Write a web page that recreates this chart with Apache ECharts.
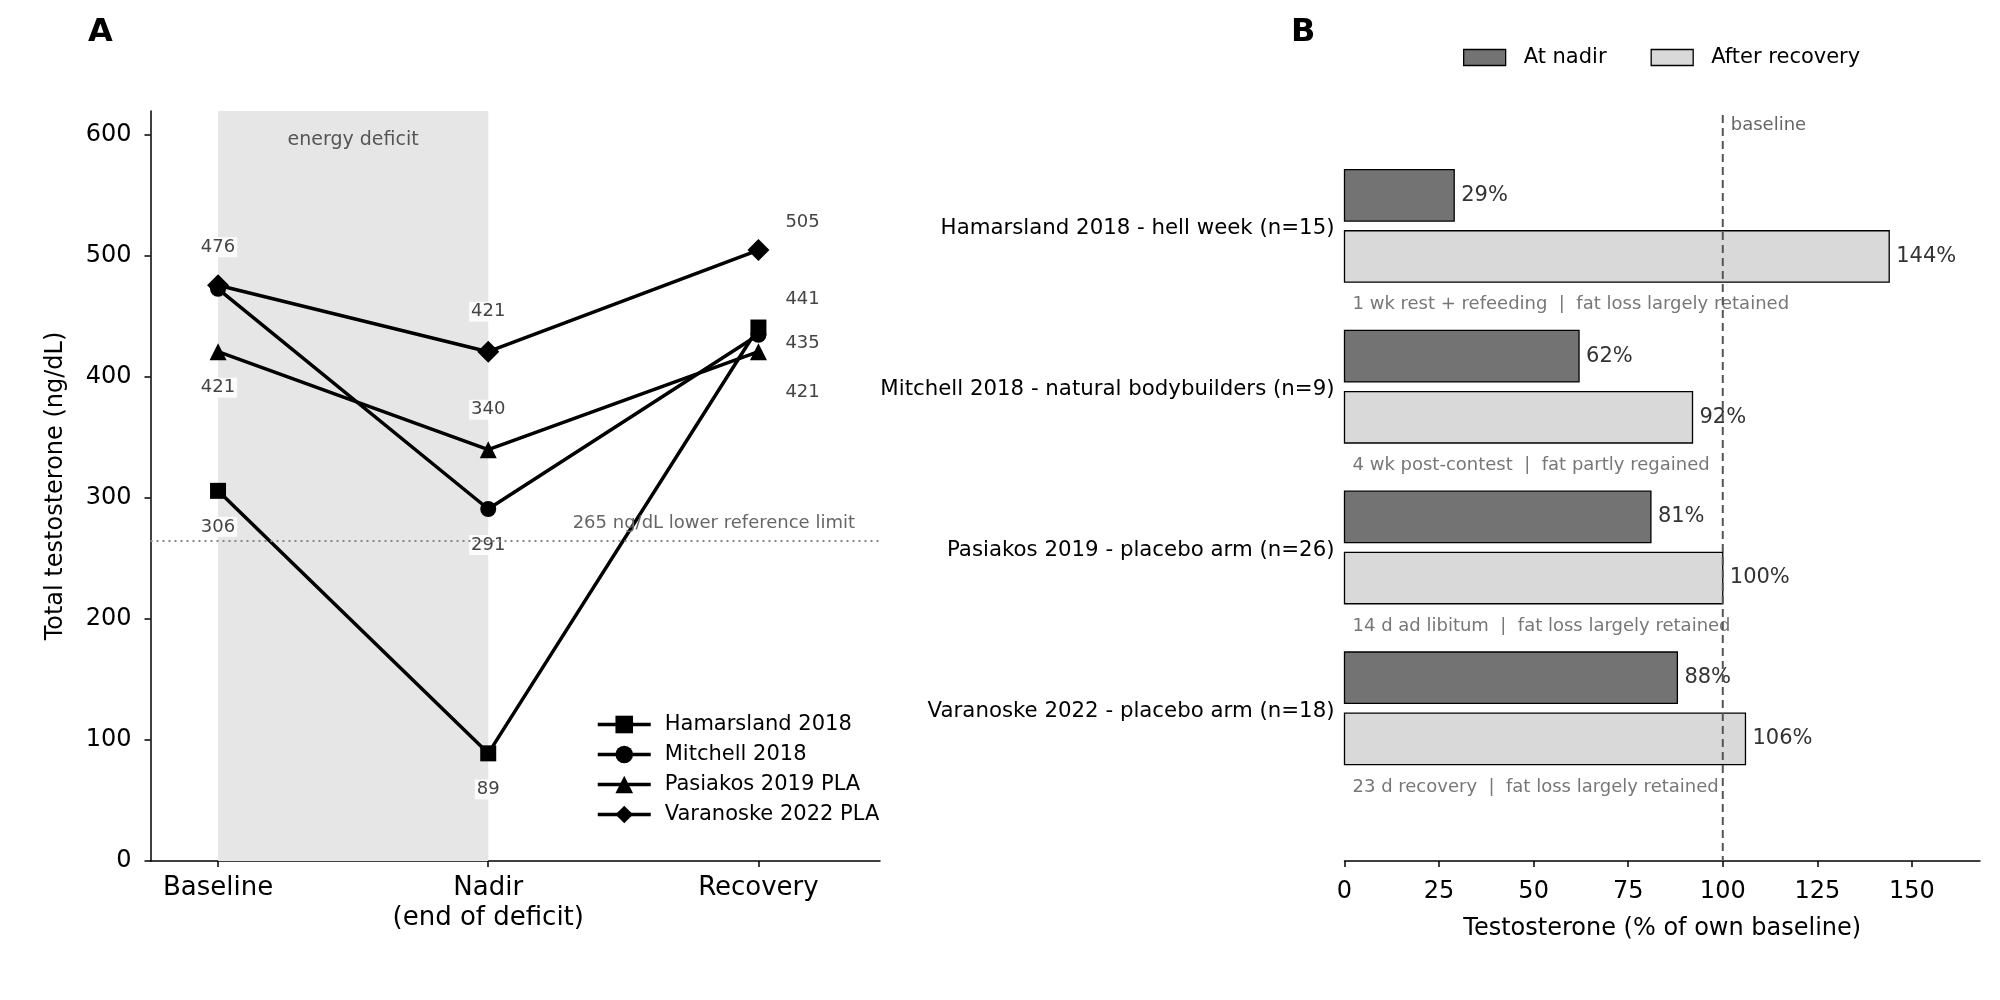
<!DOCTYPE html>
<html>
<head>
<meta charset="utf-8">
<script src="https://cdn.jsdelivr.net/npm/echarts@6/dist/echarts.min.js"></script>
<style>
  html, body { margin: 0; padding: 0; background: #fff; }
  #chart { width: 2000px; height: 1000px; }
</style>
</head>
<body>
<div id="chart"></div>
<script>
// Panel A: absolute testosterone across time points
const TIMEPOINTS = ['Baseline', 'Nadir\n(end of deficit)', 'Recovery']
const STUDIES = ['Hamarsland 2018', 'Mitchell 2018', 'Pasiakos 2019 PLA', 'Varanoske 2022 PLA']
const HAMARSLAND = [306, 89, 441]
const MITCHELL = [473, 291, 435]
const PASIAKOS = [421, 340, 421]
const VARANOSKE = [476, 421, 505]
const REF_LIMIT = 265
const Y_TICKS_A = [0, 100, 200, 300, 400, 500, 600]

// Panel B: % of own baseline
const GROUPS = [
  'Hamarsland 2018 - hell week (n=15)',
  'Mitchell 2018 - natural bodybuilders (n=9)',
  'Pasiakos 2019 - placebo arm (n=26)',
  'Varanoske 2022 - placebo arm (n=18)',
]
const AT_NADIR = [29, 62, 81, 88]
const AFTER_RECOVERY = [144, 92, 100, 106]
const NOTES = [
  '1 wk rest + refeeding  |  fat loss largely retained',
  '4 wk post-contest  |  fat partly regained',
  '14 d ad libitum  |  fat loss largely retained',
  '23 d recovery  |  fat loss largely retained',
]
const BASELINE_PCT = 100
const X_TICKS_B = [0, 25, 50, 75, 100, 125, 150]

const FONT = 'DejaVu Sans'
const SERIES_VALUES = [HAMARSLAND, MITCHELL, PASIAKOS, VARANOSKE]
const SYMBOLS = ['rect', 'circle', 'triangle', 'diamond']
const SYMBOL_SIZES = [16, 16, 17, 22]

// label placement per point: [side, px offset of label centre from the point] (null = no label)
const LABEL_PLACE = [
  [['bottom', 37], ['bottom', 37], ['right', -28]],
  [null, ['bottom', 37], ['right', 9]],
  [['bottom', 37], ['top', 41], ['right', 41]],
  [['top', 39], ['top', 41], ['right', -28]],
]

const B_YMIN = -0.69, B_YMAX = 3.95

const chart = echarts.init(document.getElementById('chart'), null, { renderer: 'canvas' })

const labelBase = {
  show: true, fontFamily: FONT, fontSize: 18, color: '#444',
  backgroundColor: 'rgba(255,255,255,0.85)', padding: [1, 2],
}

function pointLabel(si, i) {
  const p = LABEL_PLACE[si][i]
  if (!p) return { show: false }
  const half = SYMBOL_SIZES[si] / 2
  if (p[0] === 'right') {
    return { ...labelBase, position: 'right', distance: 25 - half, offset: [0, p[1]] }
  }
  return { ...labelBase, position: p[0], distance: p[1] - half - 11 }
}

const lineSeries = STUDIES.map((name, si) => ({
  name, type: 'line', xAxisIndex: 0, yAxisIndex: 0,
  data: SERIES_VALUES[si].map((v, i) => ({ value: [i, v], label: pointLabel(si, i) })),
  symbol: SYMBOLS[si], symbolSize: SYMBOL_SIZES[si],
  lineStyle: { color: '#000', width: 3.5 },
  itemStyle: { color: '#000' },
  z: 3,
  ...(si === 0 ? {
    markArea: {
      silent: true,
      itemStyle: { color: '#e6e6e6' },
      label: { show: true, position: 'insideTop', distance: 20, fontFamily: FONT, fontSize: 19, color: '#555' },
      data: [[{ name: 'energy deficit', xAxis: 0 }, { xAxis: 1 }]],
    },
    markLine: {
      silent: true, symbol: 'none',
      lineStyle: { color: '#888', type: [2, 4], width: 2 },
      label: {
        show: true, position: 'insideEndTop', distance: [25, 8],
        formatter: REF_LIMIT + ' ng/dL lower reference limit',
        fontFamily: FONT, fontSize: 18, color: '#666',
      },
      data: [{ yAxis: REF_LIMIT }],
    },
  } : {}),
}))

function barSeries(name, values, k, fill) {
  return {
    name, type: 'custom', xAxisIndex: 1, yAxisIndex: 1,
    itemStyle: { color: fill, borderColor: '#000', borderWidth: 1.3 },
    data: values.map((v, g) => [g, v]),
    renderItem: (params, api) => {
      const g = api.value(0), v = api.value(1)
      const yc = g + (k === 0 ? -0.19 : 0.19)
      const p0 = api.coord([0, yc])
      const p1 = api.coord([v, yc])
      const h = api.size([0, 0.32])[1]
      return {
        type: 'group',
        children: [
          { type: 'rect', shape: { x: p0[0], y: p0[1] - h / 2, width: p1[0] - p0[0], height: h },
            style: { fill, stroke: '#000', lineWidth: 1.3 } },
          { type: 'text', x: p1[0] + 7, y: p1[1],
            style: { text: v + '%', fill: '#333', font: '21px ' + FONT, verticalAlign: 'middle', align: 'left' } },
        ],
      }
    },
    z: 2,
  }
}

const notesSeries = {
  name: 'notes', type: 'custom', xAxisIndex: 1, yAxisIndex: 1, silent: true,
  data: NOTES.map((t, g) => [0, g]),
  renderItem: (params, api) => {
    const p = api.coord([0, api.value(1) + 0.49])
    return { type: 'text', x: p[0] + 8, y: p[1],
      style: { text: NOTES[params.dataIndex], fill: '#777', font: '18px ' + FONT, verticalAlign: 'middle', align: 'left' } }
  },
  z: 2,
}

const refSeries = {
  name: 'baseline', type: 'custom', xAxisIndex: 1, yAxisIndex: 1, silent: true,
  data: [[BASELINE_PCT]],
  renderItem: (params, api) => {
    const a = api.coord([api.value(0), B_YMIN])
    const b = api.coord([api.value(0), B_YMAX])
    return {
      type: 'group',
      children: [
        { type: 'line', shape: { x1: a[0], y1: a[1], x2: b[0], y2: b[1] },
          style: { stroke: '#555', lineWidth: 2, lineDash: [8, 5] } },
        { type: 'text', x: a[0] + 8, y: a[1] + 10,
          style: { text: 'baseline', fill: '#666', font: '18px ' + FONT, verticalAlign: 'middle', align: 'left' } },
      ],
    }
  },
  z: 4,
}

const option = {
  backgroundColor: '#fff',
  animation: false,
  textStyle: { fontFamily: FONT },
  title: [
    { text: 'A', left: 88, top: 17, padding: 0, textStyle: { fontFamily: FONT, fontSize: 32, fontWeight: 'bold', color: '#000' } },
    { text: 'B', left: 1291, top: 17, padding: 0, textStyle: { fontFamily: FONT, fontSize: 32, fontWeight: 'bold', color: '#000' } },
  ],
  legend: [
    {
      data: STUDIES, orient: 'vertical', left: 591, top: 709,
      itemWidth: 53, itemHeight: 22, itemGap: 9,
      lineStyle: { width: 3.5 },
      textStyle: { fontFamily: FONT, fontSize: 21, color: '#000', padding: [0, 0, 0, 9] },
    },
    {
      data: [
        { name: 'At nadir', icon: 'rect', itemStyle: { color: '#737373', borderColor: '#000', borderWidth: 1.3 } },
        { name: 'After recovery', icon: 'rect', itemStyle: { color: '#d9d9d9', borderColor: '#000', borderWidth: 1.3 } },
      ],
      orient: 'horizontal', left: 1458, top: 42,
      itemWidth: 42, itemHeight: 16, itemGap: 44,
      textStyle: { fontFamily: FONT, fontSize: 21, color: '#000', padding: [0, 0, 0, 13] },
    },
  ],
  grid: [
    { left: 150.5, top: 111, width: 729.5, height: 750, outerBoundsMode: 'none' },
    { left: 1344.5, top: 115, width: 635.5, height: 746, outerBoundsMode: 'none' },
  ],
  xAxis: [
    {
      gridIndex: 0, type: 'value', min: -0.25, max: 2.45,
      axisLine: { show: true, onZero: false, lineStyle: { color: '#000', width: 1.5 } },
      axisTick: { show: true, length: 6, lineStyle: { color: '#000', width: 1.5 }, customValues: [0, 1, 2] },
      axisLabel: {
        customValues: [0, 1, 2], formatter: v => TIMEPOINTS[v],
        fontFamily: FONT, fontSize: 26, color: '#000', lineHeight: 30, margin: 12,
      },
      splitLine: { show: false },
    },
    {
      gridIndex: 1, type: 'value', min: 0, max: 168,
      name: 'Testosterone (% of own baseline)', nameLocation: 'middle', nameGap: 56,
      nameTextStyle: { fontFamily: FONT, fontSize: 24, color: '#000' },
      axisLine: { show: true, onZero: false, lineStyle: { color: '#000', width: 1.5 } },
      axisTick: { show: true, length: 6, lineStyle: { color: '#000', width: 1.5 }, customValues: X_TICKS_B },
      axisLabel: { customValues: X_TICKS_B, fontFamily: FONT, fontSize: 24, color: '#000', lineHeight: 28, margin: 17 },
      splitLine: { show: false },
    },
  ],
  yAxis: [
    {
      gridIndex: 0, type: 'value', min: 0, max: 620,
      name: 'Total testosterone (ng/dL)', nameLocation: 'middle', nameGap: 83,
      nameTextStyle: { fontFamily: FONT, fontSize: 24, color: '#000' },
      axisLine: { show: true, onZero: false, lineStyle: { color: '#000', width: 1.5 } },
      axisTick: { show: true, length: 6, lineStyle: { color: '#000', width: 1.5 }, customValues: Y_TICKS_A },
      axisLabel: { customValues: Y_TICKS_A, fontFamily: FONT, fontSize: 24, color: '#000', margin: 19 },
      splitLine: { show: false },
    },
    {
      gridIndex: 1, type: 'value', min: B_YMIN, max: B_YMAX, inverse: true,
      axisLine: { show: false, onZero: false },
      axisTick: { show: false },
      axisLabel: {
        customValues: [0, 1, 2, 3], formatter: v => '{g|' + GROUPS[v] + '}',
        margin: 10,
        rich: { g: { fontFamily: FONT, fontSize: 21.3, color: '#000', padding: [6, 0, 0, 0] } },
      },
      splitLine: { show: false },
    },
  ],
  series: [
    ...lineSeries,
    barSeries('At nadir', AT_NADIR, 0, '#737373'),
    barSeries('After recovery', AFTER_RECOVERY, 1, '#d9d9d9'),
    notesSeries,
    refSeries,
  ],
}

chart.setOption(option)
</script>
</body>
</html>
